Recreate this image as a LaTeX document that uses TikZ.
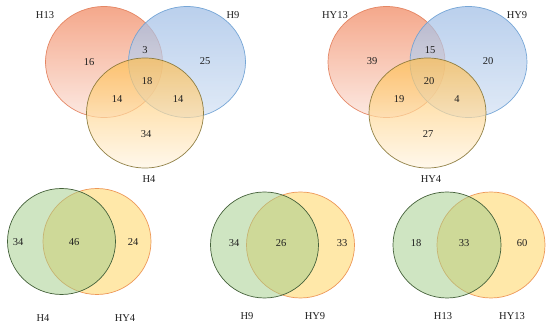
\documentclass[tikz,border=0pt]{standalone}
\usepackage{fontspec}
\setmainfont{Liberation Serif}
\usepackage{xcolor}
\usepackage{tikz}
\usetikzlibrary{shapes.geometric}
\definecolor{salm}{HTML}{F0835A}
\definecolor{salmln}{HTML}{E27E5A}
\definecolor{sky}{HTML}{9DBCE5}
\definecolor{skyln}{HTML}{6B9FD3}
\definecolor{gold}{HTML}{FFBE50}
\definecolor{goldln}{HTML}{857434}
\definecolor{leaf}{HTML}{A3CD8A}
\definecolor{leafln}{HTML}{44613A}
\definecolor{cream}{HTML}{FFE5A0}
\definecolor{creamln}{HTML}{EE9858}
\definecolor{inkk}{HTML}{1E1E1E}
\tikzset{
  setbig/.style={ellipse, inner sep=0pt, minimum width=117pt, minimum height=111pt,
                 line width=0.7pt, fill opacity=0.7, draw opacity=0.9},
  setorg/.style={setbig, draw=salmln, top color=salm, bottom color=salm!25},
  setblu/.style={setbig, draw=skyln, top color=sky, bottom color=sky!45},
  setyel/.style={setbig, draw=goldln, top color=gold, bottom color=gold!16},
  setsml/.style={ellipse, inner sep=0pt, minimum width=108pt, minimum height=106pt,
                 line width=0.7pt},
  setgrn/.style={setsml, draw=leafln, fill=leaf, fill opacity=0.52},
  setcrm/.style={setsml, draw=creamln, fill=cream, fill opacity=0.9},
  num/.style={font=\fontsize{10.5}{12}\selectfont, text=inkk, inner sep=1pt},
  ttl/.style={font=\fontsize{10.5}{12}\selectfont, text=inkk, inner sep=1pt},
}
\begin{document}
\begin{tikzpicture}[x=1pt, y=-1pt]
  \useasboundingbox (0,0) rectangle (550,328);
  % top left: H13 / H9 / H4
  \node[setorg] (h13) at (104,62) {};
  \node[setblu] (h9) at (187,62) {};
  \node[setyel, minimum height=110pt] (h4) at (145,113) {};
  \node[ttl] (lh13) at (45,15) {H13};
  \node[ttl] (lh9) at (233,15) {H9};
  \node[ttl] (lh4) at (149,179) {H4};
  \node[num] (a1) at (89,62) {16};
  \node[num] (a2) at (145,50) {3};
  \node[num] (a3) at (205,61) {25};
  \node[num] (a4) at (147,81) {18};
  \node[num] (a5) at (117,99) {14};
  \node[num] (a6) at (178,99) {14};
  \node[num] (a7) at (146,134) {34};
  % top right: HY13 / HY9 / HY4
  \node[setorg] (hy13) at (386.5,62) {};
  \node[setblu] (hy9) at (468.5,62) {};
  \node[setyel, minimum height=110pt] (hy4) at (427.5,113) {};
  \node[ttl] (lhy13) at (335,15) {HY13};
  \node[ttl] (lhy9) at (517,15) {HY9};
  \node[ttl] (lhy4) at (431,179) {HY4};
  \node[num] (b1) at (372,61) {39};
  \node[num] (b2) at (430,50) {15};
  \node[num] (b3) at (488,61) {20};
  \node[num] (b4) at (429,81) {20};
  \node[num] (b5) at (399,99) {19};
  \node[num] (b6) at (457,99) {4};
  \node[num] (b7) at (428,134) {27};
  % bottom: pairs
  \node[setcrm] (p4b) at (97,241.5) {};
  \node[setgrn] (p4a) at (61.5,241.5) {};
  \node[num] (c1) at (18,242) {34};
  \node[num] (c2) at (74,242) {46};
  \node[num] (c3) at (133,242) {24};
  \node[ttl] (lp4a) at (43,318) {H4};
  \node[ttl] (lp4b) at (125,318) {HY4};
  \node[setcrm] (p9b) at (300.5,245) {};
  \node[setgrn] (p9a) at (264.5,245) {};
  \node[num] (d1) at (234,243) {34};
  \node[num] (d2) at (281,243) {26};
  \node[num] (d3) at (342,243) {33};
  \node[ttl] (lp9a) at (247,316) {H9};
  \node[ttl] (lp9b) at (315,316) {HY9};
  \node[setcrm] (p13b) at (491,245) {};
  \node[setgrn] (p13a) at (447,245) {};
  \node[num] (e1) at (416,243) {18};
  \node[num] (e2) at (464,243) {33};
  \node[num] (e3) at (522,243) {60};
  \node[ttl] (lp13a) at (443,316) {H13};
  \node[ttl] (lp13b) at (512,316) {HY13};
\end{tikzpicture}
\end{document}
